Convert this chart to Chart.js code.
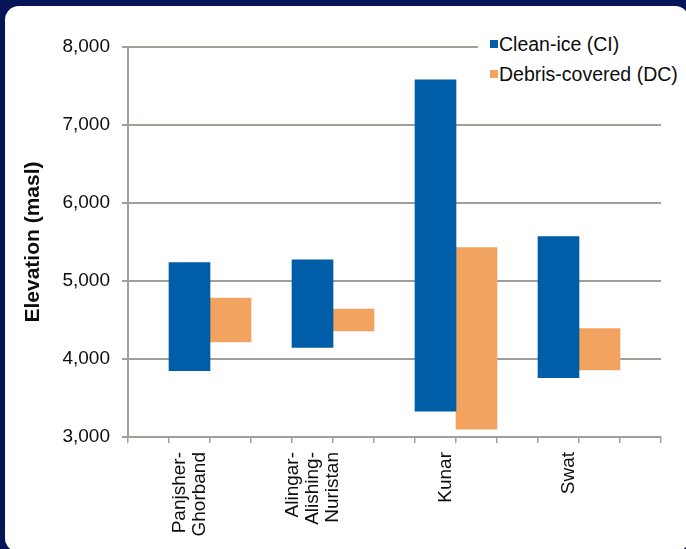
<!DOCTYPE html>
<html>
<head>
<meta charset="utf-8">
<script src="https://cdn.jsdelivr.net/npm/chart.js@4.4.1/dist/chart.umd.min.js"></script>
<style>
  html, body { margin:0; padding:0; width:686px; height:549px; overflow:hidden; background:#061458; }
  #panel { position:absolute; left:5px; top:6px; width:684px; height:546px; background:#fff; border-radius:14px; }
  #c { position:absolute; left:0; top:0; }
  #legend { position:absolute; left:478px; top:28px; width:208px; height:62px; background:#fff; font-family:'Liberation Sans', Arial, sans-serif; font-size:19.5px; color:#0d0d0d; }
  .lg-box { position:absolute; width:8px; height:8px; }
  .lg-txt { position:absolute; line-height:20px; white-space:nowrap; }
</style>
</head>
<body>
<div id="panel"></div>
<canvas id="c" width="686" height="549"></canvas>
<div id="legend"></div>
<script>
// ---- data ----
const basins = ["Panjsher-Ghorband", "Alingar-Alishing-Nuristan", "Kunar", "Swat"];
const basinLabelLines = [["Panjsher-", "Ghorband"], ["Alingar-", "Alishing-", "Nuristan"], ["Kunar"], ["Swat"]];
const ciLow  = [3850, 4150, 3330, 3760];
const ciHigh = [5235, 5270, 7580, 5570];
const dcLow  = [4220, 4360, 3100, 3860];
const dcHigh = [4780, 4640, 5430, 4390];
const seriesNames = ["Clean-ice (CI)", "Debris-covered (DC)"];
const yTicks = [3000, 4000, 5000, 6000, 7000, 8000];

const blue = '#005DA8', orange = '#F1A35F', grid = '#A29E9A';

// 13 slots: gap, CI, DC, gap, CI, DC, ...
const nSlots = basins.length * 3 + 1;
const slotLabels = [];
const ciData = [], dcData = [];
for (let s = 0; s < nSlots; s++) { slotLabels.push(""); ciData.push(null); dcData.push(null); }
basins.forEach((b, i) => {
  const lines = basinLabelLines[i];
  slotLabels[1 + 3 * i] = lines.length === 1 ? ["", lines[0]] : lines.slice();
  ciData[1 + 3 * i] = [ciLow[i], ciHigh[i]];
  dcData[2 + 3 * i] = [dcLow[i], dcHigh[i]];
});

const FONT = "'Liberation Sans', Arial, sans-serif";

new Chart(document.getElementById('c'), {
  type: 'bar',
  data: {
    labels: slotLabels,
    datasets: [
      { label: seriesNames[0], data: ciData, backgroundColor: blue, borderWidth: 0, barPercentage: 1, categoryPercentage: 1 },
      { label: seriesNames[1], data: dcData, backgroundColor: orange, borderWidth: 0, barPercentage: 1, categoryPercentage: 1 }
    ]
  },
  options: {
    responsive: false,
    animation: false,
    devicePixelRatio: 1,
    layout: { padding: { top: 47, right: 25, left: 0, bottom: 0 } },
    plugins: { legend: { display: false }, tooltip: { enabled: false } },
    scales: {
      x: {
        stacked: true,
        offset: true,
        grid: { display: true, drawOnChartArea: false, drawTicks: true, tickLength: 6, color: grid, lineWidth: 1.5, offset: true },
        border: { display: true, color: grid, width: 2 },
        ticks: {
          autoSkip: false, minRotation: 90, maxRotation: 90,
          padding: 9, labelOffset: -20,
          color: '#0d0d0d',
          font: { family: FONT, size: 19, lineHeight: '20px' },
          showLabelBackdrop: (ctx) => Array.isArray(slotLabels[ctx.index]) && slotLabels[ctx.index].length === 2,
          backdropColor: 'rgba(0,0,0,0)',
          backdropPadding: 0
        },
        afterFit: (scale) => { scale.height = 549 - 437; }
      },
      y: {
        stacked: false,
        min: yTicks[0], max: yTicks[yTicks.length - 1],
        afterBuildTicks: (scale) => { scale.ticks = yTicks.map(v => ({ value: v })); },
        grid: { color: grid, lineWidth: 2, tickLength: 6, drawTicks: true },
        border: { display: true, color: grid, width: 2 },
        ticks: { padding: 12, color: '#0d0d0d', font: { family: FONT, size: 19 } },
        title: { display: true, text: 'Elevation (masl)', color: '#0d0d0d', font: { family: FONT, size: 21, weight: 'bold', lineHeight: 1.2 }, padding: { top: 21, bottom: 0 } },
        afterFit: (scale) => { scale.width = 128; }
      }
    }
  }
});

// legend (HTML), built from series
const lg = document.getElementById('legend');
const colors = [blue, orange];
const centers = [44, 74];
seriesNames.forEach((name, i) => {
  const box = document.createElement('div');
  box.className = 'lg-box';
  box.style.left = (490 - 478) + 'px';
  box.style.top = (centers[i] - 4 - 28) + 'px';
  box.style.background = colors[i];
  lg.appendChild(box);
  const t = document.createElement('div');
  t.className = 'lg-txt';
  t.style.left = (499 - 478) + 'px';
  t.style.top = (centers[i] - 10 - 28) + 'px';
  t.textContent = name;
  lg.appendChild(t);
});
</script>
</body>
</html>
